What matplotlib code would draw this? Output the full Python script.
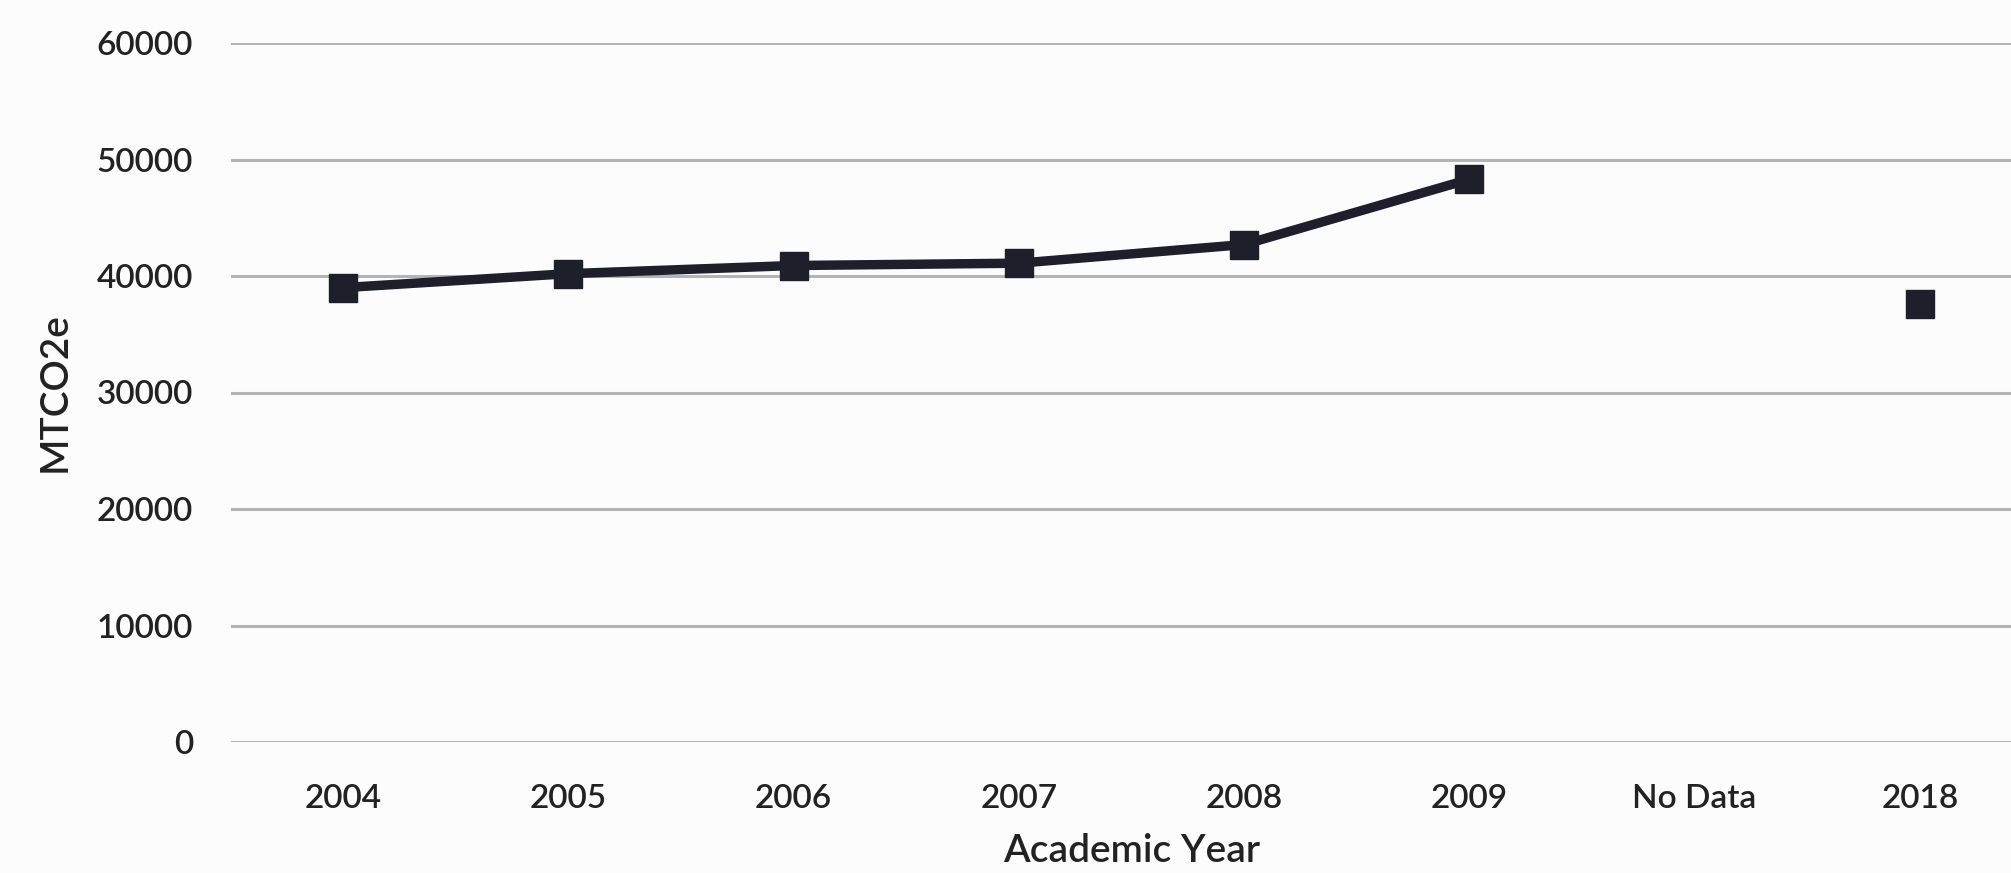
import numpy as np
import matplotlib
matplotlib.use("Agg")
import matplotlib.pyplot as plt

# Annual emissions by academic year (no value recorded for the gap year)
years = ["2004", "2005", "2006", "2007", "2008", "2009", "No Data", "2018"]
emissions = [39000, 40200, 40900, 41100, 42700, 48300, np.nan, 37600]
y_ticks = [0, 10000, 20000, 30000, 40000, 50000, 60000]

plt.rcParams["font.family"] = ["Lato", "DejaVu Sans"]

W, H, DPI = 2011, 873, 100
fig = plt.figure(figsize=(W / DPI, H / DPI), dpi=DPI, facecolor="#fcfcfc")
ax = fig.add_axes([230.5 / W, 131 / H, 1802 / W, 699 / H])
ax.set_facecolor("#fcfcfc")

x = np.arange(len(years))
ax.plot(x, emissions, color="#1d202b", linewidth=6.8, marker="s",
        markersize=20, solid_joinstyle="round", solid_capstyle="round",
        zorder=3)

ax.set_xlim(-0.5, len(years) - 0.5)
ax.set_ylim(0, 60000)
ax.set_yticks(y_ticks)
ax.set_yticklabels([str(v) for v in y_ticks])
ax.set_xticks(x)
ax.set_xticklabels(years)

ax.grid(axis="y", color="#b4b4b4", linewidth=2.2)
ax.set_axisbelow(True)
for s in ax.spines.values():
    s.set_visible(False)
ax.tick_params(axis="both", length=0, labelsize=24, labelcolor="#222222")
ax.tick_params(axis="y", pad=27)
ax.tick_params(axis="x", pad=30)
for lbl in ax.get_xticklabels() + ax.get_yticklabels():
    lbl.set_fontweight("semibold")

ax.set_xlabel("Academic Year", fontsize=28, color="#222222",
              fontweight="semibold", labelpad=14)
ax.set_ylabel("MTCO2e", fontsize=28, color="#222222",
              fontweight="semibold", labelpad=17)

fig.savefig("out.png", dpi=DPI, facecolor=fig.get_facecolor())
